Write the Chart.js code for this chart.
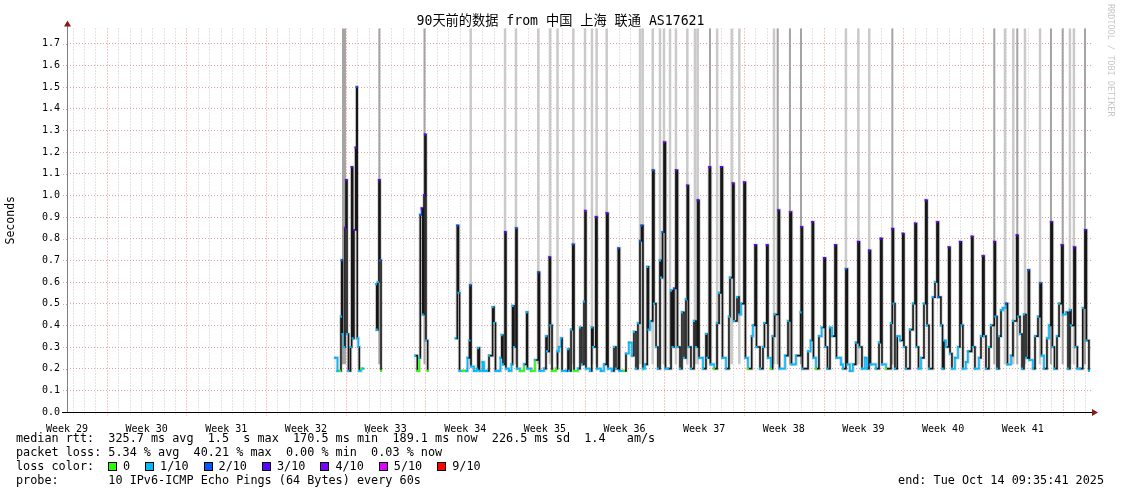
<!DOCTYPE html>
<html>
<head>
<meta charset="utf-8">
<script src="https://cdn.jsdelivr.net/npm/chart.js@4.4.1/dist/chart.umd.min.js"></script>
<style>
  html, body { margin: 0; padding: 0; background: #fff; }
  #wrap { position: relative; width: 1121px; height: 494px; overflow: hidden; }
  #c { position: absolute; left: 0; top: 0; }
  .txt { position: absolute; font: 11.8px "DejaVu Sans Mono", monospace; white-space: pre; color: #000; line-height: 14px; }
  #title { position: absolute; left: 0; width: 1121px; top: 13px; text-align: center; font: 13.2px "DejaVu Sans Mono", "Noto Sans CJK SC", monospace; line-height: 16px; color: #000; white-space: pre; }
  #loss { position: absolute; left: 108px; top: 459px; display: flex; align-items: center; height: 14px; }
  #loss .box { width: 9px; height: 9px; box-sizing: border-box; border: 1px solid #000; margin-right: 6px; }
  #loss .lbl { font: 11.8px "DejaVu Sans Mono", monospace; white-space: pre; margin-right: 15px; }
  #rrd { position: absolute; left: 1106px; top: 4px; writing-mode: vertical-rl; font: 8.5px "DejaVu Sans Mono", monospace; color: #c8c8c8; }
</style>
</head>
<body>
<div id="wrap">
  <canvas id="c" width="1121" height="494"></canvas>
  <div id="title">90天前的数据 from 中国 上海 联通 AS17621</div>
  <div class="txt" style="left:16px;top:431px">median rtt:  325.7 ms avg  1.5  s max  170.5 ms min  189.1 ms now  226.5 ms sd  1.4   am/s</div>
  <div class="txt" style="left:16px;top:445px">packet loss: 5.34 % avg  40.21 % max  0.00 % min  0.03 % now</div>
  <div class="txt" style="left:16px;top:459px">loss color:</div>
  <div id="loss"></div>
  <div class="txt" style="left:16px;top:473px">probe:       10 IPv6-ICMP Echo Pings (64 Bytes) every 60s</div>
  <div class="txt" style="right:17px;top:473px">end: Tue Oct 14 09:35:41 2025</div>
  <div id="rrd">RRDTOOL / TOBI OETIKER</div>
</div>
<script>
// time axis is in days since the start of the 90 day window
const weekLabels = ['Week 29', 'Week 30', 'Week 31', 'Week 32', 'Week 33', 'Week 34', 'Week 35',
  'Week 36', 'Week 37', 'Week 38', 'Week 39', 'Week 40', 'Week 41'];

const lossLabels = ['0', '1/10', '2/10', '3/10', '4/10', '5/10', '9/10'];
const lossColors = ['#26ff00', '#00b8ff', '#0059ff', '#5e00ff', '#7e00ff', '#dd00ff', '#ff0000'];

// median rtt (seconds), with the loss level index of each sample
const medianTime = [
  23.55, 23.77, 23.99, 24.08, 24.14, 24.21, 24.35, 24.43, 24.52, 24.61, 24.74,
  24.92, 25.02, 25.11, 25.22, 25.37, 25.46, 25.51, 25.60, 25.69, 25.84, 26.04, 26.5,
  27.16, 27.22, 27.33, 27.42, 27.51, 27.60, 28.0,
  30.59, 30.79, 30.96, 31.05, 31.17, 31.26, 31.38, 31.46, 31.55, 31.70, 32.0,
  34.14, 34.30, 34.41, 34.50, 34.80,
  35.11, 35.20, 35.37, 35.42, 35.51, 35.77,
  36.04, 36.12, 36.25, 36.52, 36.65, 36.91,
  37.09, 37.41, 37.53, 37.66, 37.97,
  38.10, 38.21, 38.32, 38.50, 38.58, 38.85,
  39.07, 39.16, 39.29, 39.46, 39.55, 39.81,
  40.17, 40.40, 40.47, 40.78,
  41.13, 41.42, 41.53, 41.92,
  42.10, 42.19, 42.39, 42.49, 42.63, 42.98,
  43.11, 43.24, 43.42, 43.51, 43.86,
  44.03, 44.12, 44.30, 44.45, 44.56, 44.91,
  45.09, 45.26, 45.44, 45.53, 45.61, 45.97,
  46.12, 46.23, 46.47, 46.58, 46.93,
  47.20, 47.43, 47.55, 47.90,
  48.08, 48.25, 48.45, 48.56, 48.95,
  49.13, 49.39, 49.66, 49.83,
  50.01, 50.18, 50.36, 50.49, 50.62, 50.80,
  51.00, 51.11, 51.24, 51.48, 51.59, 51.77, 51.94,
  52.12, 52.21, 52.34, 52.47, 52.60, 52.82,
  53.09, 53.22, 53.35, 53.52, 53.66, 53.88,
  54.05, 54.23, 54.40, 54.52, 54.62, 54.84,
  55.11, 55.28, 55.43, 55.55, 55.90,
  56.16, 56.25, 56.45, 56.56, 56.87,
  57.13, 57.31, 57.48, 57.61, 57.92,
  58.18, 58.27, 58.51, 58.62, 58.89,
  59.06, 59.24, 59.50, 59.63, 59.85,
  60.18, 60.29, 60.47, 60.60, 60.91,
  61.17, 61.30, 61.50, 61.61, 61.87,
  62.02, 62.20, 62.52, 62.62,
  63.11, 63.37, 63.54, 63.68,
  64.07, 64.48, 64.54, 64.64,
  65.13, 65.36, 65.50, 65.61, 65.83,
  66.09, 66.33, 66.53, 66.66, 66.84,
  67.06, 67.24, 67.50, 67.63,
  68.03, 68.20, 68.46, 68.59, 68.81,
  69.07, 69.33, 69.52, 69.65, 69.87,
  70.13, 70.31, 70.49, 70.62,
  71.10, 71.37, 71.51, 71.63, 71.98,
  72.42, 72.54, 72.64, 72.77, 72.97,
  73.21, 73.45, 73.56, 73.74,
  74.09, 74.36, 74.53, 74.66, 74.84,
  75.06, 75.32, 75.47, 75.59, 75.76,
  76.09, 76.29, 76.46, 76.59, 76.81, 76.95,
  77.08, 77.25, 77.49, 77.61, 77.78,
  78.04, 78.31, 78.48, 78.61, 78.74,
  79.00, 79.18, 79.51, 79.62, 79.80,
  80.15, 80.33, 80.48, 80.60, 80.77,
  81.03, 81.21, 81.50, 81.60, 81.74, 81.91,
  82.09, 82.26, 82.53, 82.66, 82.97,
  83.14, 83.47, 83.58, 83.76, 83.94,
  84.11, 84.29, 84.49, 84.59, 84.90,
  85.08, 85.34, 85.52, 85.65, 85.87,
  86.13, 86.31, 86.48, 86.61, 86.79,
  87.01, 87.19, 87.42, 87.54, 87.80, 87.98,
  88.15, 88.24, 88.50, 88.63, 88.80,
  89.02, 89.28, 89.47, 89.60, 89.82
];
const medianRtt = [
  0.25, 0.19, 0.19, 0.44, 0.70, 0.36, 0.30, 0.85, 1.07, 0.36, 0.19,
  0.30, 1.13, 0.34, 0.84, 1.22, 1.50, 0.34, 0.30, 0.19, 0.20, 0.20, null,
  0.59, 0.38, 0.60, 1.07, 0.70, 0.19, null,
  0.26, 0.19, 0.25, 0.91, 0.94, 0.45, 1.00, 1.28, 0.33, 0.19, null,
  0.34, 0.86, 0.55, 0.19, 0.19,
  0.19, 0.25, 0.33, 0.585, 0.21, 0.19,
  0.20, 0.295, 0.19, 0.23, 0.19, 0.19,
  0.26, 0.484, 0.41, 0.19, 0.19,
  0.25, 0.355, 0.22, 0.83, 0.20, 0.19,
  0.22, 0.49, 0.30, 0.848, 0.20, 0.19,
  0.22, 0.46, 0.20, 0.19,
  0.24, 0.645, 0.19, 0.20,
  0.35, 0.28, 0.714, 0.40, 0.19, 0.20,
  0.28, 0.30, 0.34, 0.19, 0.19,
  0.29, 0.19, 0.38, 0.773, 0.19, 0.20,
  0.39, 0.22, 0.51, 0.928, 0.20, 0.19,
  0.39, 0.30, 0.90, 0.20, 0.19,
  0.22, 0.917, 0.20, 0.19,
  0.30, 0.20, 0.756, 0.19, 0.19,
  0.27, 0.32, 0.26, 0.37,
  0.20, 0.41, 0.79, 0.86, 0.20, 0.22,
  0.67, 0.38, 0.42, 1.115, 0.50, 0.30, 0.20,
  0.70, 0.62, 0.83, 1.245, 0.20, 0.20,
  0.56, 0.30, 0.57, 1.115, 0.30, 0.20,
  0.46, 0.25, 0.52, 1.045, 0.30, 0.20,
  0.42, 0.30, 0.977, 0.25, 0.20,
  0.36, 0.25, 1.13, 0.22, 0.20,
  0.41, 0.55, 1.13, 0.25, 0.20,
  0.44, 0.62, 1.055, 0.42, 0.53,
  0.45, 0.50, 1.06, 0.25, 0.20,
  0.35, 0.40, 0.77, 0.30, 0.20,
  0.30, 0.41, 0.77, 0.25, 0.20,
  0.35, 0.45, 0.931, 0.20,
  0.26, 0.42, 0.923, 0.22,
  0.26, 0.46, 0.854, 0.20,
  0.28, 0.33, 0.877, 0.25, 0.20,
  0.35, 0.39, 0.71, 0.30, 0.20,
  0.39, 0.35, 0.77, 0.25,
  0.22, 0.20, 0.66, 0.22, 0.19,
  0.22, 0.32, 0.785, 0.30, 0.20,
  0.25, 0.20, 0.745, 0.22,
  0.20, 0.32, 0.80, 0.22, 0.20,
  0.41, 0.845, 0.50, 0.20, 0.35,
  0.33, 0.823, 0.30, 0.20,
  0.38, 0.50, 0.87, 0.30, 0.20,
  0.25, 0.50, 0.977, 0.40, 0.20,
  0.53, 0.60, 0.877, 0.53, 0.40, 0.20,
  0.33, 0.30, 0.76, 0.27, 0.20,
  0.25, 0.30, 0.785, 0.40, 0.20,
  0.23, 0.28, 0.81, 0.30, 0.20,
  0.25, 0.35, 0.72, 0.35, 0.20,
  0.30, 0.40, 0.785, 0.44, 0.20, 0.35,
  0.47, 0.48, 0.50, 0.22, 0.26,
  0.42, 0.816, 0.44, 0.36, 0.20,
  0.45, 0.25, 0.655, 0.24, 0.20,
  0.35, 0.44, 0.594, 0.26, 0.20,
  0.34, 0.40, 0.877, 0.30, 0.20,
  0.35, 0.50, 0.77, 0.45, 0.46, 0.20,
  0.47, 0.40, 0.76, 0.30, 0.20,
  0.20, 0.48, 0.84, 0.33, 0.19
];
const medianLoss = [
  1, 1, 0, 1, 2, 1, 1, 3, 3, 1, 1,
  1, 3, 1, 3, 3, 2, 1, 1, 1, 0, 1, 0,
  1, 1, 1, 3, 2, 0, 0,
  1, 0, 1, 2, 3, 1, 3, 3, 1, 0, 0,
  1, 2, 1, 1, 0,
  1, 1, 1, 2, 1, 1,
  1, 1, 1, 1, 1, 1,
  1, 1, 1, 1, 1,
  1, 1, 1, 3, 1, 1,
  1, 1, 1, 2, 1, 0,
  1, 1, 1, 0,
  1, 2, 1, 1,
  1, 1, 3, 1, 0, 0,
  1, 1, 1, 1, 1,
  1, 1, 1, 2, 0, 1,
  1, 1, 1, 4, 1, 1,
  1, 1, 3, 1, 1,
  1, 3, 1, 1,
  1, 1, 2, 1, 0,
  1, 1, 1, 1,
  1, 1, 2, 2, 1, 1,
  1, 1, 1, 2, 1, 1, 1,
  1, 1, 2, 4, 1, 1,
  1, 1, 2, 3, 1, 1,
  1, 1, 1, 3, 1, 1,
  1, 1, 3, 1, 1,
  1, 1, 4, 1, 0,
  1, 1, 3, 1, 1,
  1, 1, 4, 1, 1,
  1, 1, 4, 1, 0,
  1, 1, 3, 1, 1,
  1, 1, 3, 1, 0,
  1, 1, 3, 1,
  1, 1, 4, 1,
  1, 1, 3, 1,
  1, 1, 3, 1, 0,
  1, 1, 3, 1, 1,
  1, 1, 3, 1,
  1, 1, 2, 1, 1,
  1, 1, 3, 1, 1,
  1, 1, 3, 1,
  1, 1, 3, 1, 0,
  1, 3, 1, 1, 1,
  1, 3, 1, 1,
  1, 1, 3, 1, 1,
  1, 1, 3, 1, 1,
  1, 1, 4, 2, 1, 1,
  1, 1, 3, 1, 1,
  1, 1, 3, 1, 1,
  1, 1, 4, 1, 1,
  1, 1, 3, 1, 1,
  1, 1, 3, 1, 1, 1,
  1, 1, 2, 1, 1,
  1, 3, 1, 1, 1,
  1, 1, 2, 1, 1,
  1, 1, 2, 1, 1,
  1, 1, 3, 1, 1,
  1, 1, 3, 1, 1, 1,
  1, 1, 3, 1, 1,
  1, 1, 3, 1, 1
];

// ping "smoke" that runs off the top of the graph
const lightSmokeTime = [35.48, 38.50, 39.46, 41.42, 42.45, 43.11, 44.50, 45.53, 46.14, 46.55, 47.43,
  50.36, 50.60, 51.48, 52.12, 52.47, 53.00, 53.52, 54.52, 55.19, 55.43, 57.14, 58.42, 59.09,
  62.14, 68.46, 69.55, 70.51, 82.44, 83.17, 84.20, 85.52, 88.15, 88.50];
const darkSmokeTime = [24.26, 24.43, 27.45, 31.42, 56.51, 62.46, 63.54, 64.51, 72.54,
  81.50, 83.52, 86.48, 87.51, 89.47];
const smokeBottom = 0.22;
const smokeTop = 1.9;

function smokePoints(times) {
  const pts = [];
  times.forEach(t => {
    pts.push({ x: t, y: smokeBottom }, { x: t, y: smokeTop }, { x: t, y: null });
  });
  return pts;
}

const medianPoints = medianTime.map((t, i) => ({ x: t, y: medianRtt[i] }));

// loss colour legend
const lossBox = document.getElementById('loss');
lossLabels.forEach((l, i) => {
  const b = document.createElement('span');
  b.className = 'box';
  b.style.background = lossColors[i];
  const s = document.createElement('span');
  s.className = 'lbl';
  s.textContent = l;
  lossBox.appendChild(b);
  lossBox.appendChild(s);
});

const monoFont = '"DejaVu Sans Mono", "Noto Sans CJK SC", monospace';

const rrdGrid = {
  id: 'rrdGrid',
  beforeDatasetsDraw(chart) {
    const { ctx, chartArea: a, scales: { x } } = chart;
    ctx.save();
    ctx.lineWidth = 1;
    ctx.setLineDash([1, 2]);
    for (let d = 0.5; d < 90; d += 1) {
      const px = Math.round(x.getPixelForValue(d)) + 0.5;
      const week = (d - 3.5) % 7 === 0;
      ctx.strokeStyle = week ? 'rgba(255,120,120,0.85)' : 'rgba(185,185,185,0.8)';
      ctx.beginPath();
      ctx.moveTo(px, a.top);
      ctx.lineTo(px, a.bottom + (week ? 4 : 2));
      ctx.stroke();
    }
    ctx.restore();
  },
  afterDatasetsDraw(chart) {
    const { ctx, chartArea: a, scales: { y } } = chart;
    ctx.save();
    ctx.lineWidth = 1;
    ctx.setLineDash([1, 2]);
    ctx.strokeStyle = 'rgba(210,140,140,0.8)';
    y.ticks.forEach(t => {
      const py = Math.round(y.getPixelForValue(t.value)) + 0.5;
      ctx.beginPath();
      ctx.moveTo(a.left - 4, py);
      ctx.lineTo(a.left, py);
      ctx.stroke();
    });
    ctx.setLineDash([]);
    const ax = Math.round(a.left) + 0.5;
    const ay = Math.round(a.bottom) + 0.5;
    ctx.strokeStyle = '#808080';
    ctx.beginPath();
    ctx.moveTo(ax, a.top - 3);
    ctx.lineTo(ax, ay);
    ctx.stroke();
    ctx.strokeStyle = '#000';
    ctx.beginPath();
    ctx.moveTo(a.left - 5, ay);
    ctx.lineTo(a.right + 2, ay);
    ctx.stroke();
    ctx.fillStyle = '#8b1a1a';
    ctx.beginPath();
    ctx.moveTo(ax, a.top - 8);
    ctx.lineTo(ax - 3.5, a.top - 2);
    ctx.lineTo(ax + 3.5, a.top - 2);
    ctx.closePath();
    ctx.fill();
    ctx.beginPath();
    ctx.moveTo(a.right + 7, ay);
    ctx.lineTo(a.right + 1, ay - 3.5);
    ctx.lineTo(a.right + 1, ay + 3.5);
    ctx.closePath();
    ctx.fill();
    ctx.restore();
  }
};

new Chart(document.getElementById('c'), {
  type: 'scatter',
  data: {
    datasets: [
      {
        order: 4,
        data: smokePoints(lightSmokeTime),
        showLine: true, spanGaps: false,
        borderColor: '#cacaca', borderWidth: 2.5, pointRadius: 0
      },
      {
        order: 3,
        data: smokePoints(darkSmokeTime),
        showLine: true, spanGaps: false,
        borderColor: '#a4a4a4', borderWidth: 2, pointRadius: 0
      },
      {
        order: 2,
        data: medianPoints,
        showLine: true, spanGaps: false, stepped: true,
        borderColor: 'rgba(120,120,120,0.3)', borderWidth: 3.5, pointRadius: 0
      },
      {
        order: 1,
        data: medianPoints,
        showLine: true, spanGaps: false, stepped: true,
        borderWidth: 1.6,
        borderColor: '#161616',
        segment: {
          borderColor: c => Math.abs(c.p1.parsed.y - c.p0.parsed.y) > 0.06
            ? '#161616' : lossColors[medianLoss[c.p0DataIndex]]
        },
        pointStyle: 'rect',
        pointRadius: 1.5,
        pointBorderWidth: 0,
        pointBackgroundColor: c => lossColors[medianLoss[c.dataIndex]]
      }
    ]
  },
  options: {
    responsive: false,
    animation: false,
    devicePixelRatio: 1,
    events: [],
    layout: { padding: { left: 0, right: 30, top: 28.5, bottom: 0 } },
    plugins: {
      legend: { display: false },
      tooltip: { enabled: false },
      title: { display: false }
    },
    scales: {
      x: {
        type: 'linear',
        min: 0, max: 90,
        afterFit: s => { s.height = 82; },
        afterBuildTicks: s => { s.ticks = weekLabels.map((_, i) => ({ value: i * 7 })); },
        ticks: {
          autoSkip: false, maxRotation: 0, padding: 3, color: '#000',
          font: { family: monoFont, size: 10 },
          callback: (v, i) => weekLabels[i]
        },
        grid: { display: false },
        border: { display: false }
      },
      y: {
        min: 0, max: 1.77,
        afterFit: s => { s.width = 67; },
        ticks: {
          stepSize: 0.1, includeBounds: false, padding: 7, color: '#000',
          font: { family: monoFont, size: 10 },
          callback: v => v.toFixed(1)
        },
        grid: { color: 'rgba(210,140,140,0.8)', drawTicks: false },
        border: { display: false, dash: [1, 2] },
        title: {
          display: true, text: 'Seconds', color: '#000',
          font: { family: monoFont, size: 11.5 },
          padding: { top: 4, bottom: 0 }
        }
      }
    }
  },
  plugins: [rrdGrid]
});
</script>
</body>
</html>
